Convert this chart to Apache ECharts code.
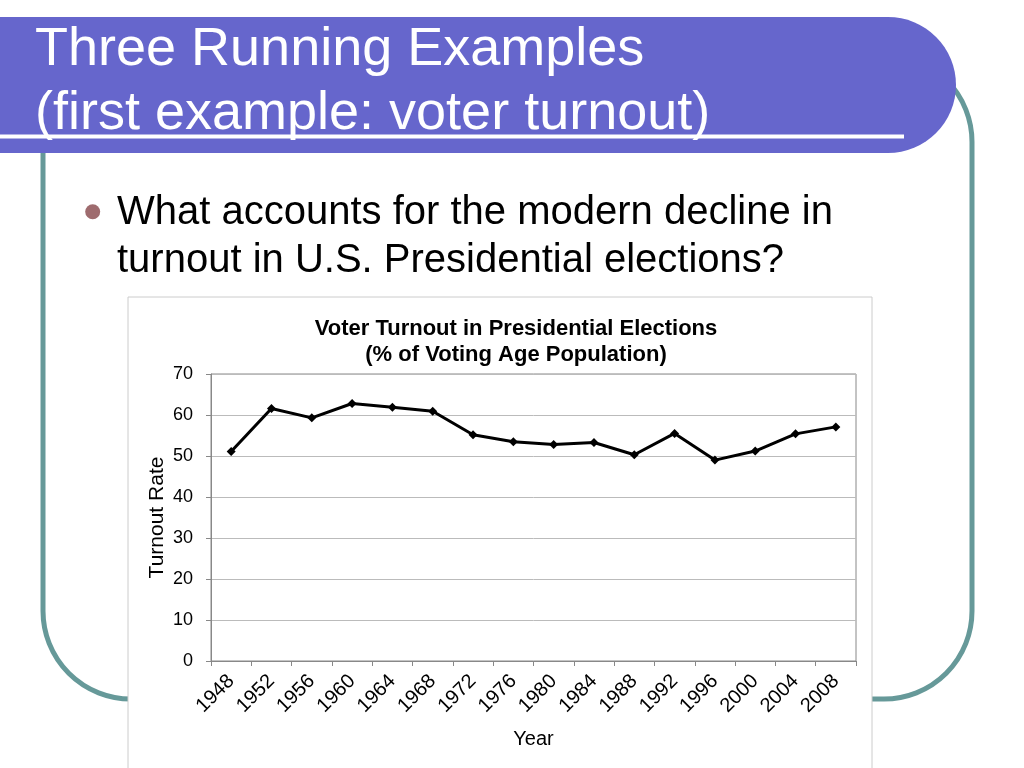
<!DOCTYPE html>
<html>
<head>
<meta charset="utf-8">
<script src="https://cdn.jsdelivr.net/npm/echarts@6/dist/echarts.min.js"></script>
<style>
html,body{margin:0;padding:0;background:#fff;}
#main{width:1024px;height:768px;}
</style>
</head>
<body>
<div id="main"></div>
<script>
var years = ['1948','1952','1956','1960','1964','1968','1972','1976','1980','1984','1988','1992','1996','2000','2004','2008'];
var turnout = [51.1, 61.6, 59.3, 62.8, 61.9, 60.9, 55.2, 53.5, 52.8, 53.3, 50.3, 55.5, 49.0, 51.2, 55.4, 57.1];
var yTicks = [0, 10, 20, 30, 40, 50, 60, 70];

var FONT = '"Liberation Sans", Arial, sans-serif';
var chart = echarts.init(document.getElementById('main'));
chart.setOption({
  animation: false,
  backgroundColor: '#ffffff',
  graphic: [
    { type: 'rect', z: -10, shape: { x: 43, y: 54, width: 929, height: 645, r: 88 },
      style: { fill: 'none', stroke: '#669999', lineWidth: 5 } },
    { type: 'rect', z: -9, shape: { x: -10, y: 17, width: 966, height: 136, r: [0, 68, 68, 0] },
      style: { fill: '#6666CC' } },
    { type: 'line', z: -8, shape: { x1: 0, y1: 136.5, x2: 904, y2: 136.5 },
      style: { stroke: '#ffffff', lineWidth: 4 } },
    { type: 'text', z: -7, style: { x: 35, y: 50, text: 'Three Running Examples', fill: '#ffffff',
      font: '54px ' + FONT, textAlign: 'left', textVerticalAlign: 'middle' } },
    { type: 'text', z: -7, style: { x: 35, y: 114, text: '(first example: voter turnout)', fill: '#ffffff',
      font: '54px ' + FONT, textAlign: 'left', textVerticalAlign: 'middle' } },
    { type: 'circle', z: -7, shape: { cx: 92.7, cy: 211.7, r: 7.5 }, style: { fill: '#9E6B6E' } },
    { type: 'text', z: -7, style: { x: 117, y: 213, text: 'What accounts for the modern decline in', fill: '#000000',
      font: '40px ' + FONT, textAlign: 'left', textVerticalAlign: 'middle' } },
    { type: 'text', z: -7, style: { x: 117, y: 261, text: 'turnout in U.S. Presidential elections?', fill: '#000000',
      font: '40px ' + FONT, textAlign: 'left', textVerticalAlign: 'middle' } },
    { type: 'rect', z: -6, shape: { x: 128, y: 297, width: 744, height: 480 },
      style: { fill: '#ffffff', stroke: '#CCCCCC', lineWidth: 1 } }
  ],
  title: {
    text: 'Voter Turnout in Presidential Elections\n(% of Voting Age Population)',
    left: 516, top: 316, textAlign: 'center', padding: 0,
    textStyle: { fontFamily: FONT, fontSize: 22, fontWeight: 'bold', color: '#000', lineHeight: 26 }
  },
  grid: { left: 211, right: 168, top: 374, bottom: 107, show: true, borderColor: '#888888', borderWidth: 1, backgroundColor: 'transparent' },
  xAxis: {
    type: 'category', data: years, boundaryGap: true,
    name: 'Year', nameLocation: 'middle', nameGap: 68, nameMoveOverlap: false,
    nameTextStyle: { fontFamily: FONT, fontSize: 20, color: '#000' },
    axisLine: { lineStyle: { color: '#888888', width: 1 } },
    axisTick: { show: true, length: 5, lineStyle: { color: '#888888' } },
    axisLabel: { rotate: 45, fontFamily: FONT, fontSize: 20, color: '#000', margin: 17, interval: 0 },
    splitLine: { show: false }
  },
  yAxis: {
    type: 'value', min: yTicks[0], max: yTicks[yTicks.length - 1], interval: 10,
    name: 'Turnout Rate', nameLocation: 'middle', nameGap: 43, nameRotate: 90, nameMoveOverlap: false,
    nameTextStyle: { fontFamily: FONT, fontSize: 21, color: '#000' },
    axisLine: { show: true, lineStyle: { color: '#888888', width: 1 } },
    axisTick: { show: true, length: 5, lineStyle: { color: '#888888' } },
    axisLabel: { fontFamily: FONT, fontSize: 18, color: '#000', margin: 18 },
    splitLine: { show: true, lineStyle: { color: '#BBBBBB', width: 1 } }
  },
  series: [{
    type: 'line', data: turnout,
    symbol: 'diamond', symbolSize: 9,
    lineStyle: { color: '#000', width: 3 },
    itemStyle: { color: '#000' }
  }]
});
</script>
</body>
</html>
